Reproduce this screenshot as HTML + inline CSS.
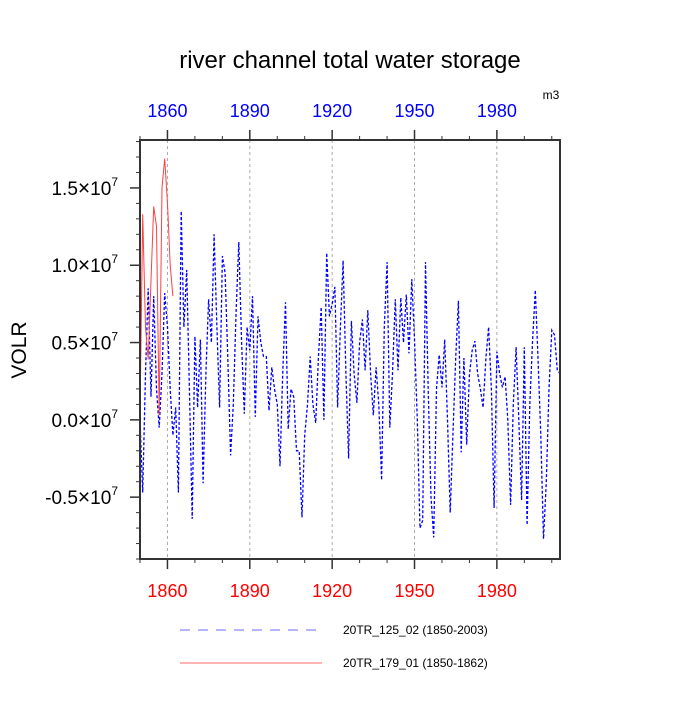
<!DOCTYPE html>
<html><head><meta charset="utf-8"><style>
html,body{margin:0;padding:0;background:#fff;}
svg text{font-family:"Liberation Sans",sans-serif;}
</style></head><body>
<svg id="chart" width="700" height="700" viewBox="0 0 700 700">
<text x="350" y="68" font-size="24" text-anchor="middle">river channel total water storage</text>
<text x="551" y="99" font-size="12" text-anchor="middle">m3</text>
<text transform="translate(26,350) rotate(-90)" font-size="21" text-anchor="middle">VOLR</text>
<g id="grid"></g>
<g id="series"></g>
<g id="axes"></g>
<rect x="140" y="140" width="420" height="419" fill="none" stroke="#333" stroke-width="2"/>
<g>
<line x1="180" y1="630" x2="322" y2="630" stroke="#6a6aff" stroke-width="1" stroke-dasharray="10,8"/>
<text x="343" y="634" font-size="12">20TR_125_02 (1850-2003)</text>
<line x1="180" y1="663" x2="322" y2="663" stroke="#ff6a6a" stroke-width="1"/>
<text x="343" y="667" font-size="12">20TR_179_01 (1850-1862)</text>
</g>
</svg>
<script>
const blueStart = 1850;
const blueValues = [
0.0,-0.47,0.3,0.85,0.15,0.8,0.2,-0.05,0.3,0.82,
0.6,0.2,-0.1,0.08,-0.47,1.35,0.6,0.97,0.2,-0.64,
0.54,0.08,0.52,-0.41,0.3,0.78,0.5,1.2,0.6,0.08,
1.06,0.95,0.4,-0.23,0.1,0.7,1.15,0.5,0.04,0.6,
0.45,0.8,0.02,0.67,0.5,0.41,0.41,0.06,0.34,0.2,
0.1,-0.3,0.3,0.76,-0.06,0.2,0.15,-0.2,-0.2,-0.63,
-0.1,0.1,0.41,0.1,-0.02,0.4,0.73,0.0,1.08,0.67,
0.75,0.86,0.08,0.6,1.03,0.3,-0.25,0.64,0.3,0.11,
0.5,0.65,0.32,0.71,0.3,0.03,0.34,0.1,-0.39,0.6,
1.02,-0.05,0.3,0.78,0.32,0.79,0.5,0.81,0.43,0.91,
0.52,0.0,-0.7,-0.65,1.02,0.2,-0.5,-0.76,0.2,0.42,
0.21,0.52,0.0,-0.6,-0.1,0.4,0.77,-0.21,0.4,-0.16,
0.29,0.45,0.51,0.3,0.2,0.08,0.4,0.6,0.2,-0.57,
0.44,0.3,0.21,0.28,0.0,-0.55,0.1,0.47,0.0,-0.52,
0.47,-0.68,0.1,0.5,0.84,0.4,-0.1,-0.77,-0.4,0.2,
0.58,0.55,0.32,0.3];
const redStart = 1850;
const redValues = [0.02,1.33,0.6,0.39,0.9,1.38,1.25,0.03,1.5,1.69,1.4,1.0,0.8];
const xTicks = [1860,1890,1920,1950,1980];
const yTicks = [-0.5,0.0,0.5,1.0,1.5];
const yTickLabels = ["-0.5","0.0","0.5","1.0","1.5"];

const NS="http://www.w3.org/2000/svg";
const X0=140,X1=560,Y0=140,Y1=559;
const xMin=1850,xMax=2003,yMin=-0.9,yMax=1.81;
function xs(v){return X0+(v-xMin)/(xMax-xMin)*(X1-X0);}
function ys(v){return Y1-(v-yMin)/(yMax-yMin)*(Y1-Y0);}
function mk(tag,attrs,parent){const e=document.createElementNS(NS,tag);for(const k in attrs)e.setAttribute(k,attrs[k]);parent.appendChild(e);return e;}
const grid=document.getElementById('grid'),axes=document.getElementById('axes'),series=document.getElementById('series');

xTicks.forEach(t=>{
  const x=xs(t);
  const g=mk('line',{x1:x,x2:x,y1:Y0,y2:Y1,stroke:'#aaa','stroke-width':1,'stroke-dasharray':'3,3'},grid);
  
  
  const tb=mk('text',{x:x,y:597,'font-size':18,fill:'#ff0000','text-anchor':'middle'},axes);
  tb.textContent=t;
  
  
  const tt=mk('text',{x:x,y:117,'font-size':18,fill:'#0000ff','text-anchor':'middle'},axes);
  tt.textContent=t;
  
  
});
for(let yr=1850;yr<=2003;yr+=10){
  const x=xs(yr);const major=xTicks.includes(yr);const L=major?10:4;
  const a=mk('line',{x1:x,x2:x,y1:Y1,y2:Y1+L,stroke:'#333','stroke-width':major?1.5:1},axes);
  
  
  const b=mk('line',{x1:x,x2:x,y1:Y0,y2:Y0-L,stroke:'#333','stroke-width':major?1.5:1},axes);
  
  
}
for(let i=-9;i<=18;i++){
  const v=i/10;const y=ys(v);const major=(i%5===0);const L=major?10:4;
  const t=mk('line',{x1:X0-L,x2:X0,y1:y,y2:y,stroke:'#333','stroke-width':major?1.5:1},axes);
  
  
}
yTicks.forEach((v,i)=>{
  const tx=mk('text',{x:118,y:ys(v)+7,'font-size':19,'text-anchor':'end'},axes);
  tx.innerHTML=yTickLabels[i]+'<tspan font-size="21">×</tspan>10<tspan dy="-9" font-size="12">7</tspan>';
  
  
});

const bp=blueValues.map((v,i)=>xs(blueStart+i).toFixed(1)+','+ys(v).toFixed(1)).join(' ');
const bl=mk('polyline',{points:bp,fill:'none',stroke:'#0000ff','stroke-width':1.3,'stroke-dasharray':'3,2'},series);


const rp=redValues.map((v,i)=>xs(redStart+i).toFixed(1)+','+ys(v).toFixed(1)).join(' ');
const rl=mk('polyline',{points:rp,fill:'none',stroke:'#ff4040','stroke-width':1},series);


</script>
</body></html>
